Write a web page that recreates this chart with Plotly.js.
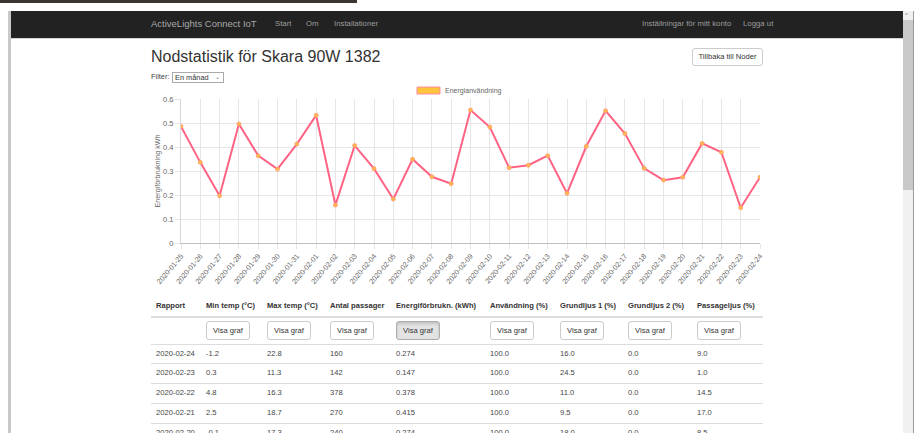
<!DOCTYPE html>
<html><head><meta charset="utf-8">
<script src="https://cdn.plot.ly/plotly-3.0.1.min.js"></script>
<style>
body{margin:0;width:918px;height:433px;overflow:hidden;background:#fff;font-family:"Liberation Sans",Arial,Helvetica,sans-serif;position:relative;color:#333}
.abs{position:absolute;white-space:nowrap}
.nav{color:#9d9d9d;font-size:7.8px;line-height:10px;top:19px}
.btn{position:absolute;box-sizing:border-box;border:1px solid #ccc;border-radius:3px;background:#fff;font-size:7.6px;color:#333;text-align:center}
.th{font-weight:bold;font-size:7.6px;color:#333}
.td{font-size:7.6px;color:#444}
.hr{position:absolute;left:151px;width:612px;background:#ddd}
</style></head><body>
<div class="abs" style="left:0;top:0;width:357px;height:3px;background:#3b3631"></div>
<div class="abs" style="left:8px;top:11px;width:3px;height:422px;background:#c9c9c9"></div>
<div class="abs" style="left:11px;top:11px;width:892px;height:27px;background:#222;border-bottom:1px solid #d4d4d4"></div>
<div class="abs" style="left:151px;top:18px;color:#a8a8a8;font-size:9.5px;line-height:12px">ActiveLights Connect IoT</div>
<div class="abs nav" style="left:275px">Start</div>
<div class="abs nav" style="left:306px">Om</div>
<div class="abs nav" style="left:334px">Installationer</div>
<div class="abs nav" style="left:642px">Inställningar för mitt konto</div>
<div class="abs nav" style="left:743px">Logga ut</div>
<!-- scrollbar -->
<div class="abs" style="left:903px;top:11px;width:10px;height:422px;background:#f0f0f0"></div>
<div class="abs" style="left:903px;top:20px;width:10px;height:170px;background:#c8c8c8"></div>
<div class="abs" style="left:905px;top:12px;font-size:6px;color:#777">^</div>
<div class="abs" style="left:913px;top:11px;width:1px;height:422px;background:#9a9a9a"></div>

<div class="abs" style="left:151px;top:47px;font-size:16px;line-height:20px;color:#333">Nodstatistik för Skara 90W 1382</div>
<div class="btn" style="left:692px;top:48px;width:71px;height:18px;line-height:16px;font-size:7.6px">Tillbaka till Noder</div>
<div class="abs" style="left:151px;top:72px;font-size:7.4px;line-height:10px;color:#444">Filter:</div>
<div class="abs" style="left:172px;top:72px;width:48px;height:9px;border:1px solid #aaa;font-size:7.4px;line-height:9px;color:#333;padding-left:2px;box-sizing:content-box">En månad <span style="position:absolute;right:3px;color:#666;font-size:6px">&#8964;</span></div>

<div id="chart" class="abs" style="left:140px;top:80px;width:630px;height:210px"></div>
<div id="table"></div>

<script>
const dates = ["2020-01-25","2020-01-26","2020-01-27","2020-01-28","2020-01-29","2020-01-30","2020-01-31","2020-02-01","2020-02-02","2020-02-03","2020-02-04","2020-02-05","2020-02-06","2020-02-07","2020-02-08","2020-02-09","2020-02-10","2020-02-11","2020-02-12","2020-02-13","2020-02-14","2020-02-15","2020-02-16","2020-02-17","2020-02-18","2020-02-19","2020-02-20","2020-02-21","2020-02-22","2020-02-23","2020-02-24"];
const energy = [0.486,0.336,0.197,0.496,0.364,0.308,0.412,0.532,0.158,0.406,0.310,0.183,0.349,0.276,0.247,0.554,0.483,0.314,0.324,0.364,0.207,0.403,0.551,0.456,0.311,0.262,0.274,0.415,0.378,0.147,0.274];
const yTicks = [0,0.1,0.2,0.3,0.4,0.5,0.6];
const seriesName = "Energianvändning";
const yTitle = "Energiförbrukning kWh";

const tableHeaders = ["Rapport","Min temp (°C)","Max temp (°C)","Antal passager","Energiförbrukn. (kWh)","Användning (%)","Grundljus 1 (%)","Grundljus 2 (%)","Passageljus (%)"];
const reportDates = ["2020-02-24","2020-02-23","2020-02-22","2020-02-21","2020-02-20"];
const minTemp = ["-1.2","0.3","4.8","2.5","-0.1"];
const maxTemp = ["22.8","11.3","16.3","18.7","17.3"];
const passages = ["160","142","378","270","240"];
const energyTable = ["0.274","0.147","0.378","0.415","0.274"];
const usage = ["100.0","100.0","100.0","100.0","100.0"];
const base1 = ["16.0","24.5","11.0","9.5","18.0"];
const base2 = ["0.0","0.0","0.0","0.0","0.0"];
const passLight = ["9.0","1.0","14.5","17.0","8.5"];
const buttonLabel = "Visa graf";

// table
(function(){
  const colX = [156,206,267,330,396,490,560,628,697];
  const t = document.getElementById('table');
  let h = '';
  tableHeaders.forEach((txt,i)=>{ h += `<div class="abs th" style="left:${colX[i]}px;top:301px;line-height:10px">${txt}</div>`; });
  h += `<div class="hr" style="top:316px;height:2px"></div>`;
  for(let i=1;i<colX.length;i++){
    const active = i===4;
    h += `<div class="btn" style="left:${colX[i]}px;top:321px;width:44px;height:19px;line-height:17px;${active?'background:#e3e3e3;border-color:#adadad;box-shadow:inset 0 2px 3px rgba(0,0,0,.15);':''}">${buttonLabel}</div>`;
  }
  const cols = [reportDates,minTemp,maxTemp,passages,energyTable,usage,base1,base2,passLight];
  const lineY = [344,363,383,403,423];
  reportDates.forEach((d,r)=>{
    h += `<div class="hr" style="top:${lineY[r]}px;height:1px"></div>`;
    cols.forEach((c,i)=>{ h += `<div class="abs td" style="left:${colX[i]}px;top:${lineY[r]+4}px;line-height:11px">${c[r]}</div>`; });
  });
  t.innerHTML = h;
})();

// chart
const trace = {
  x: dates, y: energy, type: 'scatter', mode: 'lines+markers', name: seriesName,
  line: {color: '#ff6384', width: 2},
  marker: {color: '#ffb84d', size: 4, line: {color: '#ff9a70', width: 0.8}},
  hoverinfo: 'x+y'
};
const layout = {
  width: 630, height: 210,
  margin: {l: 41, r: 10, t: 19, b: 47, pad: 0},
  paper_bgcolor: 'rgba(0,0,0,0)', plot_bgcolor: 'rgba(0,0,0,0)',
  showlegend: false,
  font: {family: '"Liberation Sans", Arial, sans-serif', color: '#666'},
  xaxis: {
    type: 'category', range: [0, dates.length - 1],
    tickangle: -50, tickfont: {size: 7.2, color: '#666'},
    showgrid: true, gridcolor: '#e6e6e6', gridwidth: 1,
    ticks: 'outside', ticklen: 5, tickcolor: '#e6e6e6',
    showline: true, linecolor: '#bfbfbf', linewidth: 1,
    zeroline: false, fixedrange: true
  },
  yaxis: {
    range: [0, 0.6], tickvals: yTicks, ticktext: yTicks.map(v => String(v)),
    tickfont: {size: 7.6, color: '#666'},
    showgrid: true, gridcolor: '#e6e6e6', gridwidth: 1,
    ticks: 'outside', ticklen: 5, tickcolor: '#e6e6e6',
    showline: true, linecolor: '#d8d8d8', linewidth: 1,
    zeroline: false, fixedrange: true,
    title: {text: yTitle, font: {size: 7.2, color: '#666'}, standoff: 1}
  },
  shapes: [{
    type: 'rect', xref: 'paper', yref: 'paper',
    x0: 0.4076, x1: 0.4473, y0: 1.035, y1: 1.083,
    fillcolor: '#ffc53d', line: {color: '#ff8aa0', width: 1}
  }],
  annotations: [{
    xref: 'paper', yref: 'paper', x: 0.4525, y: 1.059, xanchor: 'left', yanchor: 'middle',
    text: seriesName, showarrow: false, font: {size: 7, color: '#666'}
  }]
};
Plotly.newPlot('chart', [trace], layout, {displayModeBar: false, staticPlot: true});
</script>
</body></html>
